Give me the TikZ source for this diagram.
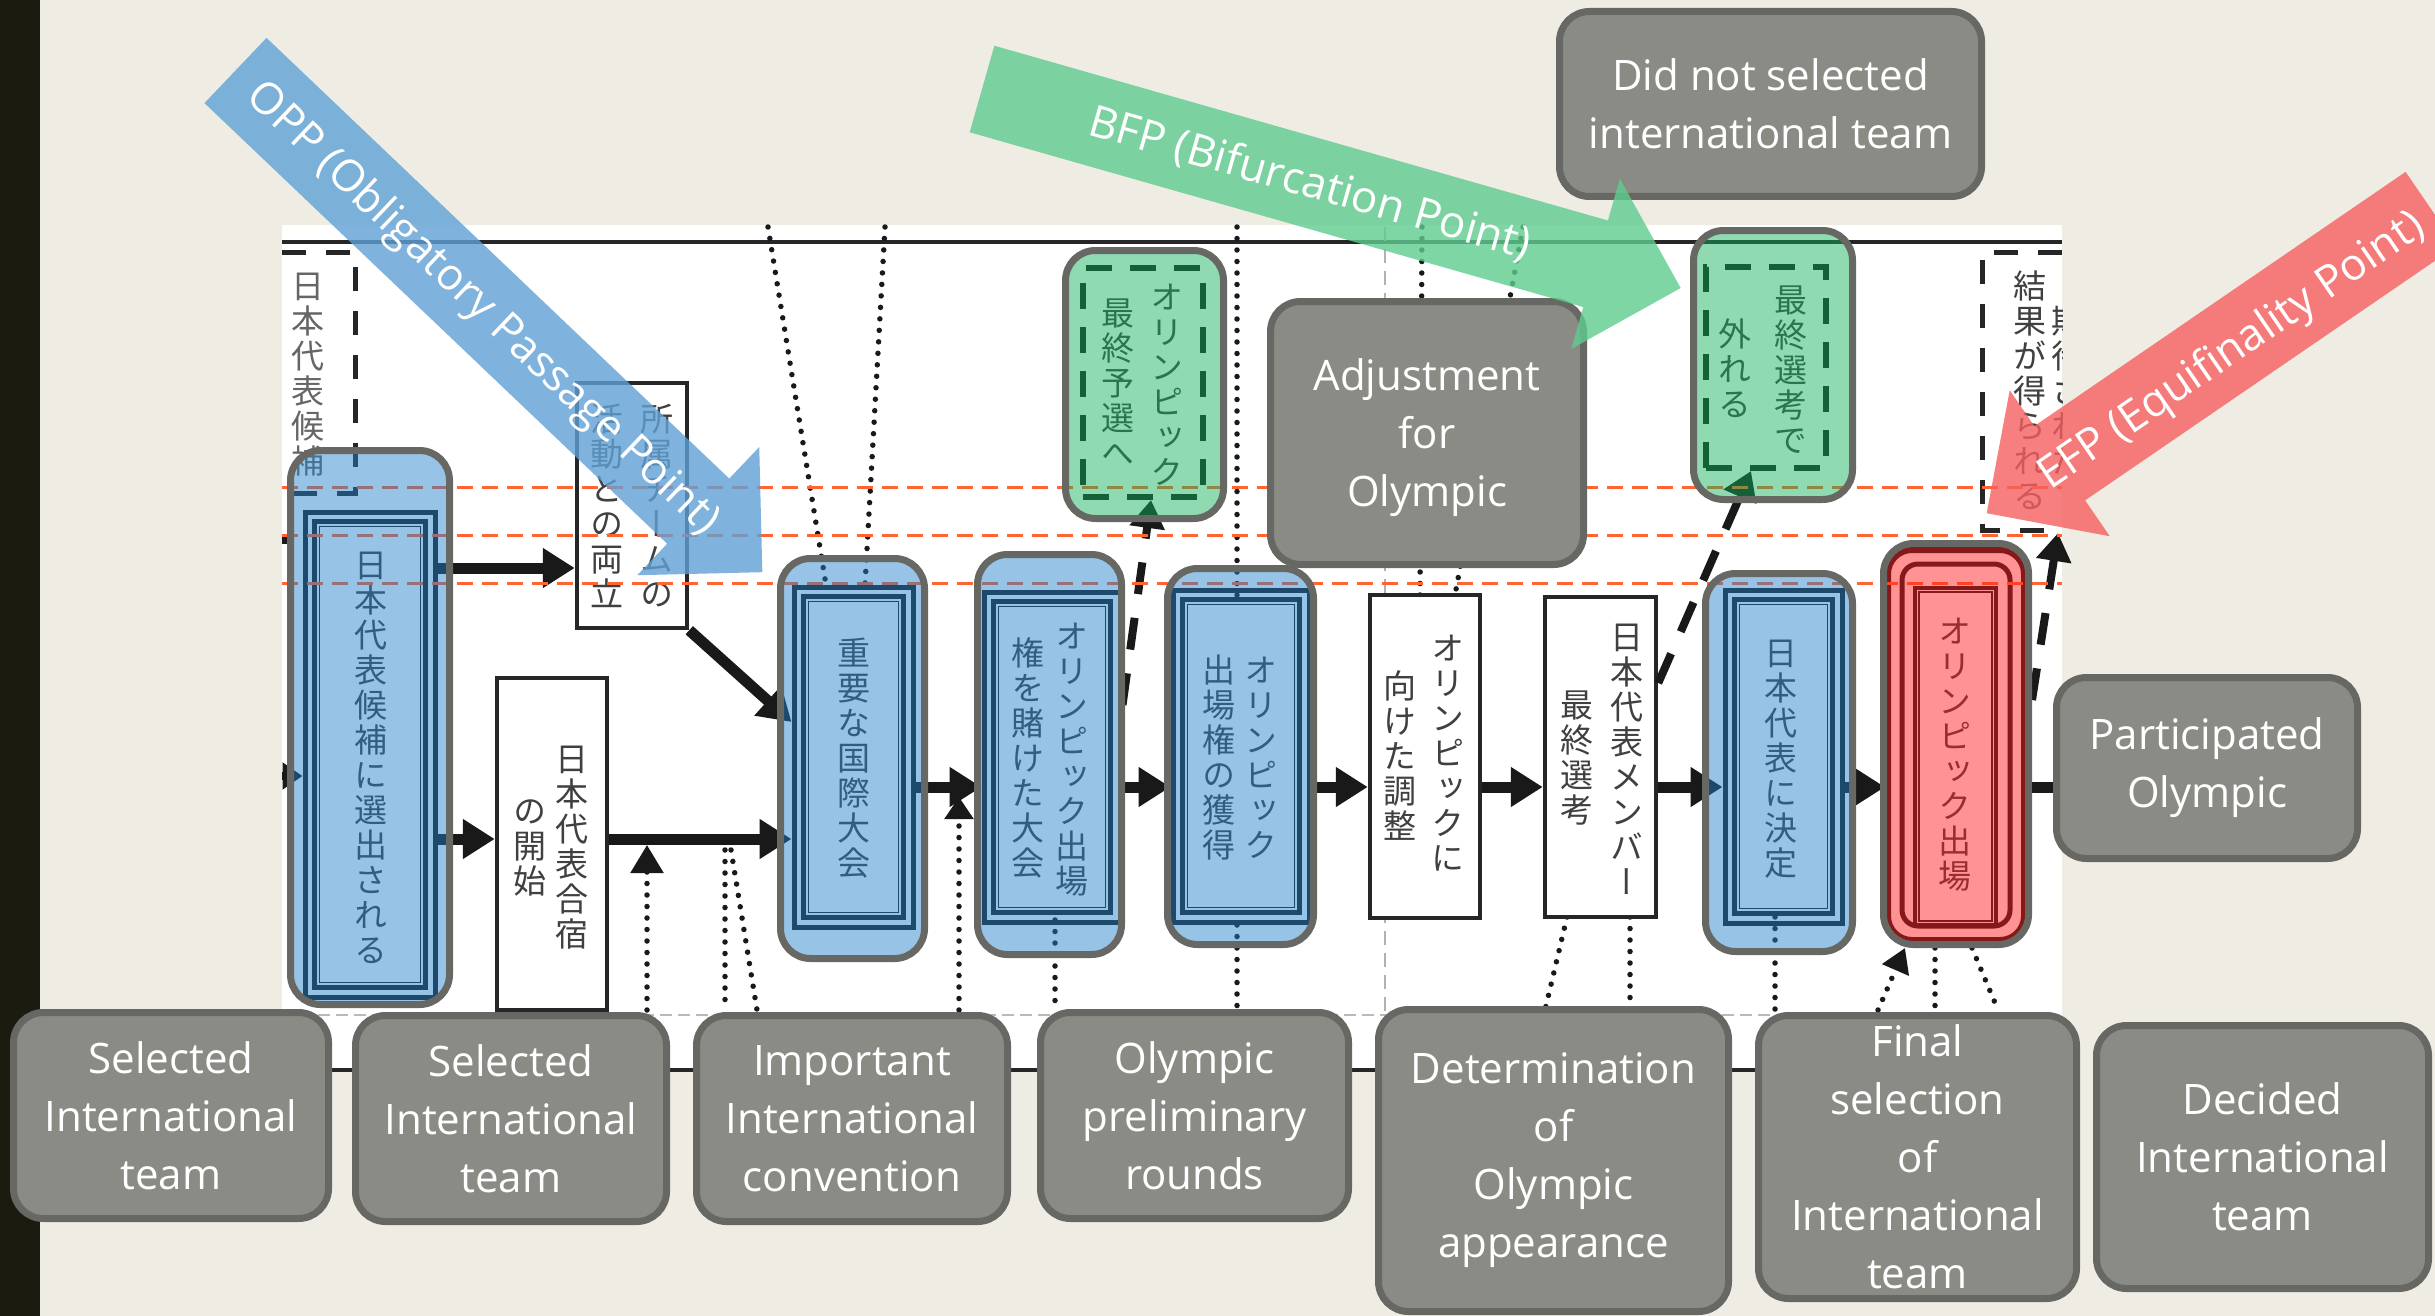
\documentclass[tikz,border=0pt]{standalone}
\usepackage{fontspec}
\newfontfamily\lblfont{Open Sans}
\newfontfamily\jpfont[RawFeature=+vert]{Noto Sans CJK JP}
\usetikzlibrary{arrows.meta}
\definecolor{bg}{RGB}{239,236,228}
\definecolor{strip}{RGB}{28,27,16}
\definecolor{boxgray}{RGB}{139,139,133}
\definecolor{bordgray}{RGB}{103,104,99}
\definecolor{ovblue}{RGB}{32,128,202}
\definecolor{ovgreen}{RGB}{18,178,89}
\definecolor{ovred}{RGB}{255,26,26}
\definecolor{orng}{RGB}{255,100,50}
\definecolor{aropp}{RGB}{95,161,214}
\definecolor{arbfp}{RGB}{95,204,143}
\definecolor{arefp}{RGB}{246,95,95}
\makeatletter
\newcommand\vcol[1]{\vbox{\baselineskip=35pt\lineskip=0pt\lineskiplimit=-100pt\vcol@#1\relax}}
\def\vcol@#1{\ifx\relax#1\else\hbox to 35pt{\hss#1\hss}\expandafter\vcol@\fi}
\makeatother
\begin{document}
\begin{tikzpicture}[x=1pt,y=-1pt,
  lbl/.style={draw=bordgray, line width=7pt, fill=boxgray, rounded corners=30pt, text=white, align=center, font=\lblfont\fontsize{42}{58}\selectfont, inner sep=0pt},
  wbox/.style={draw=black!85, line width=4.5pt, fill=white, inner sep=0pt},
  frm/.style={draw=black!90, line width=5pt, inner sep=0pt},
  thinfrm/.style={draw=black!90, line width=1.5pt},
  gfrm/.style={draw=black!90, line width=6pt, dash pattern=on 26pt off 18pt, inner sep=0pt},
  ov/.style={draw=bordgray, line width=7pt, rounded corners=30pt, fill opacity=0.47, inner sep=0pt},
  jp/.style={inner sep=0pt, font=\jpfont\fontsize{33}{35}\selectfont, text=black!75},
  dotl/.style={black!90, line width=5.5pt, line cap=round, dash pattern=on 0pt off 11.5pt},
  flow/.style={black!90, line width=11pt, -{Triangle[length=32pt,width=38pt]}},
  dflow/.style={black!90, line width=8pt, dash pattern=on 32pt off 24pt, -{Triangle[length=28pt,width=34pt]}},
  orl/.style={orng, line width=3pt, dash pattern=on 16pt off 9pt},
  blkdash/.style={black!85, line width=5pt, dash pattern=on 24pt off 20pt},
  artxt/.style={text=white, inner sep=0pt, font=\lblfont\fontsize{44}{50}\selectfont},
]
\useasboundingbox (0,0) rectangle (2435,1316);
\clip (0,0) rectangle (2435,1316);
% background and panel
\fill[bg] (0,0) rectangle (2435,1316);
\fill[strip] (0,0) rectangle (40,1316);
\fill[white] (282,225) rectangle (2062,1070);
\draw[black!85, line width=4.5pt] (282,242) -- (2062,242);
\draw[black!85, line width=4pt] (282,1070) -- (2062,1070);
\draw[gray!55, line width=2.5pt, dash pattern=on 12pt off 6pt] (282,1015) -- (2062,1015);
\draw[gray!60, line width=2pt, dash pattern=on 14pt off 8pt] (1385,227) -- (1385,1015);
% dotted guidance lines
\draw[dotl] (768,227) -- (826,585);
\draw[dotl] (885,227) -- (865,585);
\draw[dotl] (1237,227) -- (1237,605);
\draw[dotl] (1237,925) -- (1237,1010);
\draw[dotl] (1055,920) -- (1055,1010);
\draw[dotl] (725,850) -- (725,1010);
\draw[dotl] (731,850) -- (757,1010);
\draw[dotl] (1422,227) -- (1420,595);
\draw[dotl] (1523,227) -- (1455,595);
\draw[dotl] (1567,917) -- (1545,1010);
\draw[dotl] (1630,917) -- (1630,1010);
\draw[dotl] (1775,917) -- (1775,1010);
\draw[dotl] (1935,948) -- (1935,1010);
\draw[dotl] (1972,948) -- (1998,1010);
\draw[dotl, -{Triangle[length=28pt,width=32pt]}] (647,1010) -- (647,845);
\draw[dotl, -{Triangle[length=22pt,width=28pt]}] (959,1010) -- (959,797);
\draw[dotl, -{Triangle[length=24pt,width=28pt]}] (1878,1010) -- (1905,948);
% dashed boxes
\draw[blkdash] (282,252) -- (355,252) -- (355,493) -- (282,493);
\node[jp, text=black!60] (tcand) at (308,375) {\vcol{日本代表候補}};
\draw[blkdash] (2062,252) -- (1982,252) -- (1982,530) -- (2062,530);
\coordinate (kitaib) at (2058,533);
\node[jp] (tkil) at (2030,390) {\vcol{結果が得られる}};
\begin{scope}
\clip (282,225) rectangle (2062,1070);
\node[jp] (tkir) at (2068,390) {\vcol{期待された}};
\end{scope}
% white boxes
\node[wbox, minimum width=110pt, minimum height=245pt] (shozoku) at (632,505.5) {};
\node[jp] (tshr) at (657,506) {\vcol{所属チームの}};
\node[jp] (tshl) at (607,506) {\vcol{活動との両立}};
\node[wbox, minimum width=110pt, minimum height=332pt] (gasshuku) at (552,844) {};
\node[jp] (tgar) at (572,848) {\vcol{日本代表合宿}};
\node[jp] (tgal) at (530,848) {\vcol{の開始}};
\node[wbox, minimum width=110pt, minimum height=323pt] (chosei) at (1425,756.5) {};
\node[jp] (tchr) at (1448,753) {\vcol{オリンピックに}};
\node[jp] (tchl) at (1400,756) {\vcol{向けた調整}};
\node[wbox, minimum width=111pt, minimum height=320pt] (member) at (1600.5,757) {};
\node[jp] (tmer) at (1627,759) {\vcol{日本代表メンバー}};
\node[jp] (tmel) at (1577,758) {\vcol{最終選考}};
% framed (blue) boxes: frames
\node[frm, minimum width=130pt, minimum height=485pt] (b1) at (370,754.5) {};
\node[frm, minimum width=119pt, minimum height=340pt] (b2) at (853.5,757) {};
\node[frm, minimum width=136pt, minimum height=330pt] (b3) at (1052,757) {};
\node[frm, minimum width=136pt, minimum height=332pt] (b4) at (1241,756) {};
\node[frm, minimum width=117pt, minimum height=333pt] (b5) at (1783.5,756.5) {};
\foreach \b in {b1,b2,b3,b4,b5}{
  \draw[frm] ([shift={(12,12)}]\b.north west) rectangle ([shift={(-12,-12)}]\b.south east);
  \draw[thinfrm] ([shift={(17,17)}]\b.north west) rectangle ([shift={(-17,-17)}]\b.south east);
}
\node[jp] (tb1) at (371,758) {\vcol{日本代表候補に選出される}};
\node[jp] (tb2) at (854,758) {\vcol{重要な国際大会}};
\node[jp] (tb3r) at (1072,760) {\vcol{オリンピック出場}};
\node[jp] (tb3l) at (1028,758) {\vcol{権を賭けた大会}};
\node[jp] (tb4r) at (1261,758) {\vcol{オリンピック}};
\node[jp] (tb4l) at (1219,758) {\vcol{出場権の獲得}};
\node[jp] (tb5) at (1781,759) {\vcol{日本代表に決定}};
% red box frames
\node[draw=black!90, line width=6pt, rounded corners=24pt, minimum width=136pt, minimum height=390pt, inner sep=0pt] (redr) at (1956,745) {};
\node[draw=black!90, line width=5pt, rounded corners=16pt, minimum width=108pt, minimum height=362pt, inner sep=0pt] (redr2) at (1956,745) {};
\node[draw=black!90, line width=4pt, minimum width=81pt, minimum height=337pt, inner sep=0pt] (redsq) at (1955.5,756.5) {};
\draw[thinfrm] ([shift={(6,6)}]redsq.north west) rectangle ([shift={(-6,-6)}]redsq.south east);
\node[jp] (tred) at (1955,755) {\vcol{オリンピック出場}};
% green box frames
\node[gfrm, minimum width=120pt, minimum height=229pt] (g1in) at (1143,382.5) {};
\node[jp] (tg1r) at (1167,385) {\vcol{オリンピック}};
\node[jp] (tg1l) at (1118,382) {\vcol{最終予選へ}};
\node[gfrm, minimum width=120pt, minimum height=201pt] (g2in) at (1766,367.5) {};
\node[jp] (tg2r) at (1791,370) {\vcol{最終選考で}};
\node[jp] (tg2l) at (1735,368) {\vcol{外れる}};
% connectors
\coordinate (lin) at (282,776);
\draw[black!90, line width=8pt, -{Triangle[length=20pt,width=26pt]}] (lin) -- (b1.west |- 0,776);
\draw[black!90, line width=8pt] (282,540) -- (288,540);
\draw[flow] (b1.east |- 0,568) -- (shozoku.west |- 0,568);
\draw[flow] (b1.east |- 0,839) -- (gasshuku.west |- 0,839);
\draw[flow] (shozoku.south east) -- (b2.west |- 0,722);
\draw[flow] (gasshuku.east |- 0,839) -- (b2.west |- 0,839);
\draw[flow] (b2.east |- 0,787) -- (b3.west |- 0,787);
\draw[flow] (b3.east |- 0,787) -- (b4.west |- 0,787);
\draw[flow] (b4.east |- 0,787) -- (chosei.west |- 0,787);
\draw[flow] (chosei.east |- 0,787) -- (member.west |- 0,787);
\draw[flow] (member.east |- 0,787) -- (b5.west |- 0,787);
\draw[flow] (b5.east |- 0,787) -- (redr.west |- 0,787);
\draw[dflow] (b3.east |- 0,705) -- ([xshift=8pt]g1in.south);
\draw[dflow] (member.east |- 0,683) -- ([xshift=-15pt]g2in.south);
\draw[dflow] ([xshift=5pt]redr.east |- 0,700) -- (kitaib);
% orange dashed lines
\foreach \yy in {487,535,583} \draw[orl] (282,\yy) -- (2062,\yy);
% translucent overlays
\node[ov, fill=ovblue, minimum width=159pt, minimum height=554pt] (b1o) at (370,727.5) {};
\node[ov, fill=ovblue, minimum width=144pt, minimum height=400pt] (b2o) at (852.5,758.5) {};
\node[ov, fill=ovblue, minimum width=144pt, minimum height=400pt] (b3o) at (1049.5,754.5) {};
\node[ov, fill=ovblue, minimum width=146pt, minimum height=376pt] (b4o) at (1240.5,756.5) {};
\node[ov, fill=ovblue, minimum width=147pt, minimum height=378pt] (b5o) at (1779,762.5) {};
\node[ov, fill=ovred, minimum width=145pt, minimum height=401pt] (redo) at (1956,744) {};
\node[ov, fill=ovgreen, minimum width=158pt, minimum height=268pt] (g1o) at (1144.5,384.5) {};
\node[ov, fill=ovgreen, minimum width=159pt, minimum height=269pt] (g2o) at (1773,365) {};
\node[lbl, minimum width=301pt, minimum height=181pt] (part) at (2207,768) {Participated\\Olympic};
\draw[black!90, line width=11pt] (redo.east |- 0,787) -- (part.west |- 0,787);
% gray labels
\node[lbl, minimum width=422pt, minimum height=185pt] (nosel) at (1770.5,104) {Did not selected\\international team};
\node[lbl, minimum width=313pt, minimum height=263pt, text depth=0pt] (adj) at (1427,433) {Adjustment\\for\\Olympic};
\node[lbl, minimum width=315pt, minimum height=206pt] (la) at (171,1115.5) {Selected\\International\\team};
\node[lbl, minimum width=311pt, minimum height=206pt] (lb) at (511,1118.5) {Selected\\International\\team};
\node[lbl, minimum width=311pt, minimum height=206pt] (lc) at (852,1118.5) {Important\\International\\convention};
\node[lbl, minimum width=308pt, minimum height=206pt] (ld) at (1194.5,1115.5) {Olympic\\preliminary\\rounds};
\node[lbl, minimum width=350pt, minimum height=302pt] (le) at (1553.5,1160.5) {Determination\\of\\Olympic\\appearance};
\node[lbl, minimum width=318pt, minimum height=283pt] (lf) at (1917.5,1157) {Final\\selection\\of\\International\\team};
\node[lbl, minimum width=332pt, minimum height=263pt] (lg) at (2262.5,1157) {Decided\\International\\team};
% big translucent arrows
\begin{scope}[shift={(235.5,70.5)}, rotate=-43.6]
\fill[aropp, opacity=0.8] (0,45) -- (639,45) -- (639,88.5) -- (727.5,0) -- (639,-88.5) -- (639,-45) -- (0,-45) -- cycle;
\end{scope}
\node[artxt, rotate=-43.6] (opp) at (482,309) {OPP (Obligatory Passage Point)};
\begin{scope}[shift={(982,89)}, rotate=-15.9]
\fill[arbfp, opacity=0.8] (0,45) -- (638,45) -- (638,88.5) -- (726.5,0) -- (638,-88.5) -- (638,-45) -- (0,-45) -- cycle;
\end{scope}
\node[artxt, rotate=-15.9] (bfp) at (1310,184) {BFP (Bifurcation Point)};
\begin{scope}[shift={(2431,209)}, rotate=214.4]
\fill[arefp, opacity=0.8] (0,45) -- (450,45) -- (450,88.5) -- (538.5,0) -- (450,-88.5) -- (450,-45) -- (0,-45) -- cycle;
\end{scope}
\node[artxt, rotate=34.4] (efp) at (2232,352) {EFP (Equifinality Point)};
\end{tikzpicture}
\end{document}
